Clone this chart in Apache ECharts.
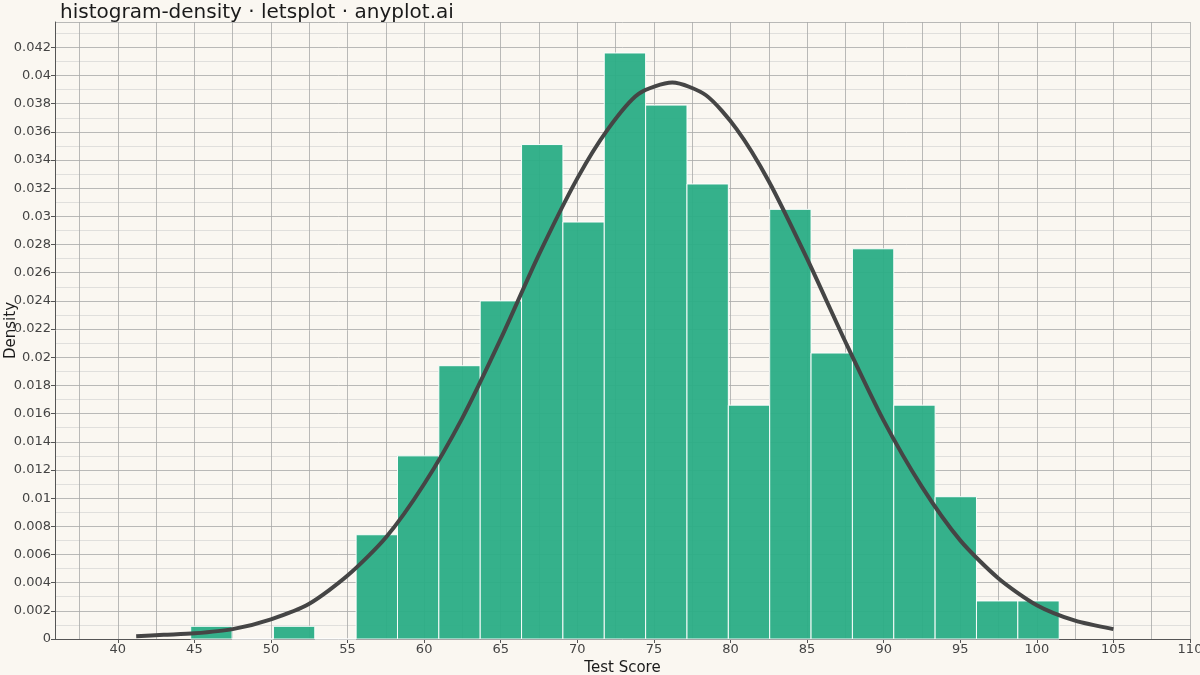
<!DOCTYPE html>
<html>
<head>
<meta charset="utf-8">
<script src="https://cdn.jsdelivr.net/npm/echarts@6/dist/echarts.min.js"></script>
<style>html,body{margin:0;background:#FAF7F1}#main{width:1200px;height:675px}</style>
</head>
<body>
<div id="main"></div>
<script>
// histogram bins (left edge of first bin, bin width, density per bin)
var binStart = 44.76;
var binWidth = 2.70;
var binDensity = [0.0009, 0, 0.0009, 0, 0.0074, 0.0130, 0.0194, 0.0240, 0.0351, 0.0296,
  0.0416, 0.0379, 0.0323, 0.0166, 0.0305, 0.0203, 0.0277, 0.0166, 0.0101, 0.0027, 0.0027];

// fitted density curve
var curveX = [41.2, 43, 45, 47.5, 50, 52.5, 55, 57.5, 60, 62.5, 65, 67.5, 70, 72, 74, 76.2,
  78.4, 80.4, 82.5, 85, 87.5, 90, 92.5, 95, 97.5, 100, 102.5, 105];
var curveY = [0.0002, 0.0003, 0.0004, 0.0007, 0.0014, 0.0025, 0.0045, 0.0072, 0.0110, 0.0157,
  0.0213, 0.0273, 0.0327, 0.0362, 0.0387, 0.0395, 0.0386, 0.0362, 0.0325, 0.0270, 0.0211,
  0.0155, 0.0108, 0.0070, 0.0043, 0.0024, 0.0013, 0.0007];

var xTicks = [40, 45, 50, 55, 60, 65, 70, 75, 80, 85, 90, 95, 100, 105, 110];
var xGrid = [];
for (var g = 37.5; g <= 110; g += 2.5) xGrid.push(g);

var bars = binDensity.map(function (d, i) {
  return [binStart + i * binWidth, binStart + (i + 1) * binWidth, d];
});

var myChart = echarts.init(document.getElementById('main'));
var option = {
  backgroundColor: '#FAF7F1',
  textStyle: { fontFamily: 'DejaVu Sans' },
  title: {
    text: 'histogram-density · letsplot · anyplot.ai',
    left: 55, top: -2,
    textStyle: { fontSize: 20, fontWeight: 'normal', color: '#1a1a1a', fontFamily: 'DejaVu Sans' }
  },
  grid: { left: 55, right: 10, top: 22, bottom: 36, outerBoundsMode: 'none' },
  xAxis: {
    type: 'value', min: 35.9, max: 110,
    name: 'Test Score', nameLocation: 'middle', nameGap: 18,
    nameTextStyle: { fontSize: 15, color: '#1a1a1a', verticalAlign: 'middle' },
    axisLine: { lineStyle: { color: '#555' } },
    axisTick: { customValues: xTicks, length: 4, lineStyle: { color: '#555' } },
    axisLabel: { customValues: xTicks, color: '#444', fontSize: 13, margin: 4 },
    splitLine: { show: false }
  },
  yAxis: {
    type: 'value', min: 0, max: 0.0438, interval: 0.002,
    name: 'Density', nameLocation: 'middle', nameGap: 36, nameMoveOverlap: false,
    nameTextStyle: { fontSize: 15, color: '#1a1a1a' },
    axisLine: { show: true, lineStyle: { color: '#555' } },
    axisTick: { show: true, length: 4, lineStyle: { color: '#555' } },
    axisLabel: { color: '#444', fontSize: 13, showMaxLabel: false, margin: 4,
      formatter: function (v) { return String(+v.toFixed(3)); } },
    splitLine: { lineStyle: { color: '#a8a8a8', width: 0.8 } },
    minorTick: { show: false, splitNumber: 2 },
    minorSplitLine: { show: true, lineStyle: { color: '#cfcfcf', width: 0.6 } }
  },
  series: [
    {
      type: 'line', data: [], silent: true, z: 0,
      markLine: {
        symbol: 'none', silent: true, label: { show: false }, z: 0,
        lineStyle: { color: '#a8a8a8', width: 0.8, type: 'solid' },
        data: xGrid.map(function (v) { return { xAxis: v }; })
      }
    },
    {
      type: 'custom', z: 3,
      data: bars,
      renderItem: function (params, api) {
        var p0 = api.coord([api.value(0), api.value(2)]);
        var p1 = api.coord([api.value(1), 0]);
        return {
          type: 'rect',
          shape: { x: p0[0], y: p0[1], width: p1[0] - p0[0], height: p1[1] - p0[1] },
          style: { fill: '#2AAD85', opacity: 0.95, stroke: '#ffffff', lineWidth: 1 }
        };
      }
    },
    {
      type: 'line', smooth: 0.25, symbol: 'none', z: 4,
      data: curveX.map(function (x, i) { return [x, curveY[i]]; }),
      lineStyle: { color: '#454545', width: 4 }
    }
  ]
};
myChart.setOption(option);
</script>
</body>
</html>
